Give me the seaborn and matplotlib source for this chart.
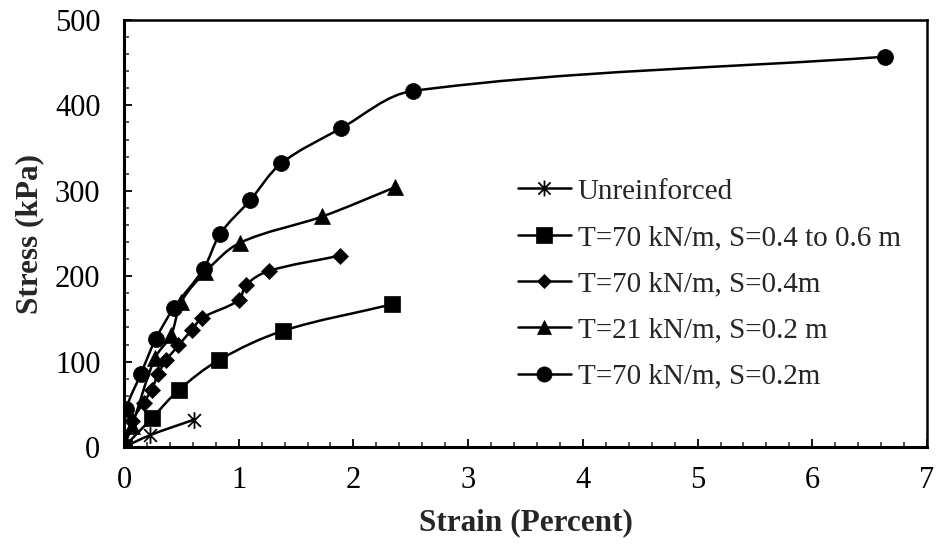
import numpy as np
import pandas as pd
import matplotlib
matplotlib.use("Agg")
import matplotlib.pyplot as plt
import seaborn as sns
from matplotlib.path import Path
from matplotlib.patches import PathPatch
from matplotlib.lines import Line2D
from matplotlib.ticker import MultipleLocator

# ---------------- data ----------------
labels = ["Unreinforced",
          "T=70 kN/m, S=0.4 to 0.6 m",
          "T=70 kN/m, S=0.4m",
          "T=21 kN/m, S=0.2 m",
          "T=70 kN/m, S=0.2m"]

unr_x = [0, 0.23, 0.61]
unr_y = [0, 14, 32]

sq_x = [0, 0.245, 0.48, 0.83, 1.385, 2.335]
sq_y = [0, 34, 67, 102, 136, 167]

dia_x = [0, 0.07, 0.17, 0.24, 0.30, 0.37, 0.475, 0.59, 0.68, 1.0, 1.065, 1.26, 1.88]
dia_y = [0, 30, 52, 67, 86, 102, 119, 137, 151, 172, 190, 206, 224]

tri_x = [0, 0.07, 0.27, 0.41, 0.5, 0.71, 1.01, 1.73, 2.36]
tri_y = [0, 25, 104, 131, 170, 205, 239, 270, 304]

cir_x = [0, 0.02, 0.145, 0.275, 0.435, 0.695, 0.84, 1.1, 1.37, 1.89, 2.52, 6.63]
cir_y = [0, 44, 85, 126, 163, 209, 250, 289, 332, 373, 417, 457]

x_ticks = [0, 1, 2, 3, 4, 5, 6, 7]
y_ticks = [0, 100, 200, 300, 400, 500]

# ---------------- style ----------------
sns.set_style("ticks")
plt.rcParams["font.family"] = ["Liberation Serif", "DejaVu Serif"]

asterisk = Path([(-1, -1), (1, 1), (-1, 1), (1, -1), (0, -1.3), (0, 1.3)],
                [Path.MOVETO, Path.LINETO, Path.MOVETO, Path.LINETO, Path.MOVETO, Path.LINETO])

series = [
    (unr_x, unr_y, asterisk, 12, "none"),
    (sq_x, sq_y, "s", 11.5, "black"),
    (dia_x, dia_y, "D", 8, "black"),
    (tri_x, tri_y, "^", 11, "black"),
    (cir_x, cir_y, "o", 11.5, "black"),
]

fig = plt.figure(figsize=(9.38, 5.46), dpi=100)
ax = fig.add_axes([124 / 938, 1 - 447 / 546, (927 - 124) / 938, (447 - 20) / 546])
ax.set_xlim(0, 7)
ax.set_ylim(0, 500)

LW = 1.8


def smooth_path(xs, ys):
    # smoothing done in a display-like space so the curve shape is scale independent
    sx = 803 / 7.0
    sy = 427 / 500.0
    pts = np.column_stack([np.asarray(xs, float) * sx, np.asarray(ys, float) * sy])
    n = len(pts)
    verts = [pts[0]]
    codes = [Path.MOVETO]

    def tangent(i):
        a = pts[max(i - 1, 0)]
        b = pts[min(i + 1, n - 1)]
        d = b - a
        nrm = np.hypot(*d)
        return d / nrm if nrm > 0 else d

    for i in range(n - 1):
        p1, p2 = pts[i], pts[i + 1]
        L = np.hypot(*(p2 - p1)) / 3.0
        c1 = p1 + tangent(i) * L
        c2 = p2 - tangent(i + 1) * L
        verts += [c1, c2, p2]
        codes += [Path.CURVE4] * 3
    verts = np.array(verts)
    verts[:, 0] /= sx
    verts[:, 1] /= sy
    return Path(verts, codes)


handles = []
for (xs, ys, mk, ms, fc), lab in zip(series, labels):
    ax.add_patch(PathPatch(smooth_path(xs, ys), fill=False, edgecolor="black",
                           linewidth=LW, zorder=2, capstyle="round", joinstyle="round"))
    df = pd.DataFrame({"x": xs, "y": ys})
    ew = 1.3 if fc == "none" else 0.5
    sns.lineplot(data=df, x="x", y="y", ax=ax, sort=False, linestyle="",
                 marker=mk, markersize=ms, markerfacecolor="black",
                 markeredgecolor="black", markeredgewidth=ew, color="black",
                 zorder=3, legend=False)
    handles.append(Line2D([], [], color="black", linewidth=LW, marker=mk,
                          markersize=ms * 0.95, markerfacecolor="black",
                          markeredgecolor="black", markeredgewidth=ew))

ax.set_xlim(0, 7)
ax.set_ylim(0, 500)
ax.set_xticks(x_ticks)
ax.set_yticks(y_ticks)
ax.xaxis.set_minor_locator(MultipleLocator(0.2))
ax.yaxis.set_minor_locator(MultipleLocator(20))

ax.tick_params(axis="both", which="major", direction="in", length=5.5, width=1.3,
               labelsize=22, colors="black")
ax.tick_params(axis="both", which="minor", direction="in", length=3.5, width=1.1)
ax.tick_params(axis="x", which="major", pad=14)
ax.tick_params(axis="y", which="major", pad=17)
ax.tick_params(axis="both", which="both", top=False, right=False)

for side in ["left", "bottom", "top", "right"]:
    ax.spines[side].set_visible(True)
    ax.spines[side].set_color("black")
ax.spines["left"].set_linewidth(2.2)
ax.spines["bottom"].set_linewidth(2.2)
ax.spines["top"].set_linewidth(1.8)
ax.spines["right"].set_linewidth(1.8)

ax.set_xlabel("Strain (Percent)", fontsize=22.5, fontweight="bold", labelpad=9)
ax.set_ylabel("Stress (kPa)", fontsize=22.5, fontweight="bold", labelpad=8)

leg = ax.legend(handles, labels, loc="center left",
                bbox_to_anchor=(518 / 938, 1 - 284 / 546), bbox_transform=fig.transFigure,
                frameon=False, fontsize=21, handlelength=1.8, handletextpad=0.25,
                labelspacing=0.68, borderpad=0, borderaxespad=0)

fig.savefig("out.png", dpi=100)
